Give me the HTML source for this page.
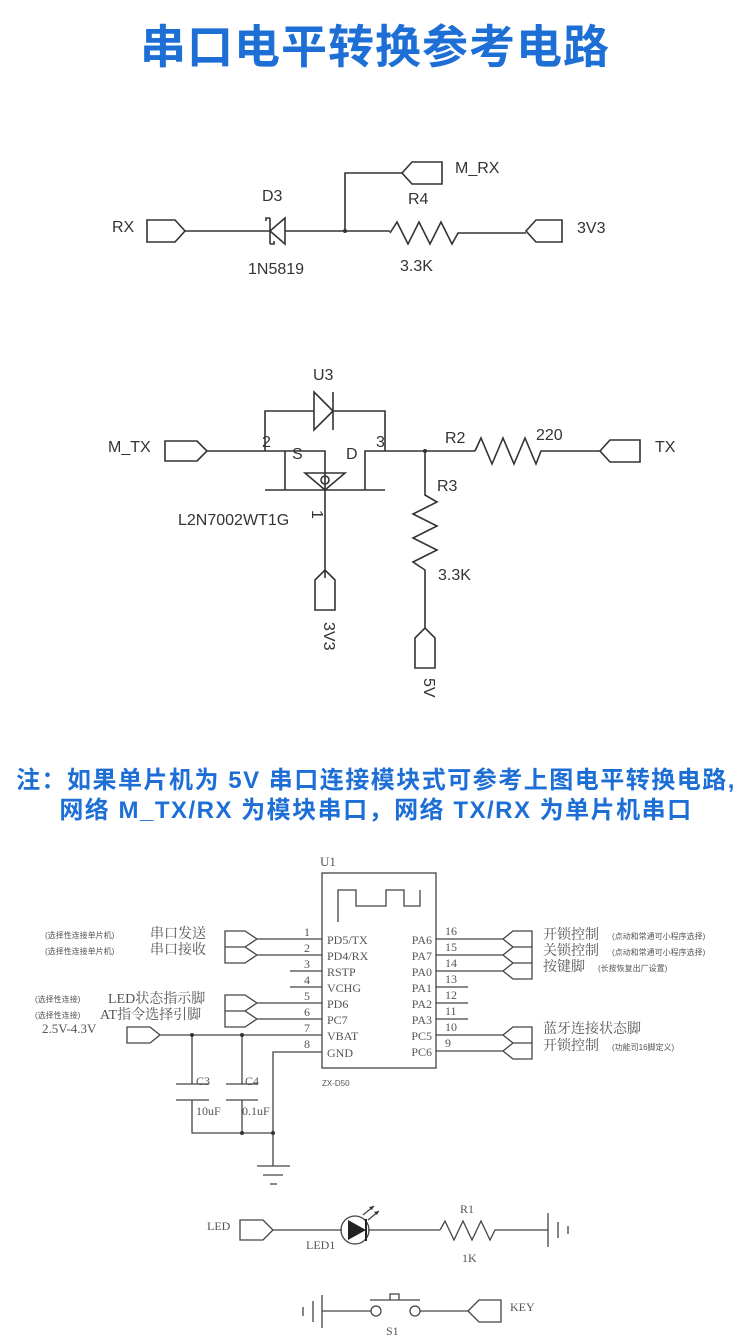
<!DOCTYPE html>
<html><head><meta charset="utf-8"><style>
html,body{margin:0;padding:0;background:#fff}
svg{display:block}
.t{font-family:"Liberation Sans","DejaVu Sans",sans-serif;fill:#333;font-size:16px}
.s{font-family:"Liberation Serif","Noto Serif CJK SC",serif;fill:#555;font-size:13px}
.sm{font-family:"Liberation Sans","Noto Sans CJK SC",sans-serif;fill:#555;font-size:8px}
.b{font-family:"Liberation Sans","Noto Sans CJK SC",sans-serif;fill:#1d6fd6;font-weight:bold}
</style></head><body>
<svg width="750" height="1344" viewBox="0 0 750 1344" xmlns="http://www.w3.org/2000/svg">
<text class="b" x="375" y="63" text-anchor="middle" font-size="46" letter-spacing="1">串口电平转换参考电路</text>

<g stroke="#333" stroke-width="1.6" fill="none">
<path d="M147,220 H175 L185,231 L175,242 H147 Z"/>
<path d="M185,231 H270"/>
<path d="M285,218 L270,231 L285,244 Z M270,218 V244 M270,218 h-4 v3 M270,244 h4 v-3"/>
<path d="M285,231 H390 M345,231 V173 H402"/>
<path d="M402,173 L412,162 H442 V184 H412 Z"/>
<path d="M390,233 L397,222 L408,244 L419,222 L430,244 L441,222 L452,244 L458,233 H526"/>
<path d="M526,231 L536,220 H562 V242 H536 Z"/>
<path d="M265,451 V411 H314 M333,411 H385 V451"/>
<path d="M314,392 L333,411 L314,430 Z M333,392 V430"/>
<path d="M165,441 H197 L207,451 L197,461 H165 Z"/>
<path d="M207,451 H325 V578 M285,451 V490 M265,490 H385 M365,490 V451 H475"/>
<path d="M305,473 H345 L325,490 Z"/>
<circle cx="325" cy="480" r="4"/>
<path d="M325,570 L335,580 V610 H315 V580 Z"/>
<path d="M475,451 L481,438 L492,464 L503,438 L514,464 L525,438 L536,464 L541,451 H600"/>
<path d="M600,451 L610,440 H640 V462 H610 Z"/>
<path d="M425,451 V495 L437,502 L413,514 L437,526 L413,538 L437,550 L413,562 L425,570 V628"/>
<path d="M425,628 L435,638 V668 H415 V638 Z"/>
</g>
<circle cx="345" cy="231" r="2" fill="#333"/>
<circle cx="425" cy="451" r="2" fill="#333"/>
<text class="t" x="112" y="232">RX</text>
<text class="t" x="262" y="201">D3</text>
<text class="t" x="248" y="274">1N5819</text>
<text class="t" x="455" y="173">M_RX</text>
<text class="t" x="408" y="204">R4</text>
<text class="t" x="400" y="271">3.3K</text>
<text class="t" x="577" y="233">3V3</text>
<text class="t" x="313" y="380">U3</text>
<text class="t" x="108" y="452">M_TX</text>
<text class="t" x="262" y="447" font-size="14">2</text>
<text class="t" x="292" y="459" font-size="14">S</text>
<text class="t" x="346" y="459" font-size="14">D</text>
<text class="t" x="376" y="447" font-size="14">3</text>
<text class="t" x="178" y="525" font-size="15">L2N7002WT1G</text>
<text class="t" x="312" y="510" font-size="12" transform="rotate(90 312 510)">1</text>
<text class="t" x="324" y="622" transform="rotate(90 324 622)">3V3</text>
<text class="t" x="445" y="443">R2</text>
<text class="t" x="536" y="440">220</text>
<text class="t" x="655" y="452">TX</text>
<text class="t" x="437" y="491">R3</text>
<text class="t" x="438" y="580">3.3K</text>
<text class="t" x="424" y="678" transform="rotate(90 424 678)">5V</text>

<text class="b" x="376" y="788" text-anchor="middle" font-size="24" letter-spacing="1.5">注：如果单片机为 5V 串口连接模块式可参考上图电平转换电路,</text>
<text class="b" x="376" y="818" text-anchor="middle" font-size="24" letter-spacing="1.5">网络 M_TX/RX 为模块串口，网络 TX/RX 为单片机串口</text>

<g stroke="#444" stroke-width="1.3" fill="none">
<rect x="322" y="873" width="114" height="195"/>
<path d="M338,922 V890 H356 V906 H386 V890 H404 V906 H420 V890"/>
<path d="M290,939 H322 M290,955 H322 M290,971 H322 M290,987 H322 M290,1003 H322 M290,1019 H322 M160,1035 H322 M322,1052 H273 V1166"/>
<path d="M225,931 H245 L257,939 L245,947 H225 Z M257,939 H290 M225,947 H245 L257,955 L245,963 H225 Z M257,955 H290"/>
<path d="M225,995 H245 L257,1003 L245,1011 H225 Z M257,1003 H290 M225,1011 H245 L257,1019 L245,1027 H225 Z M257,1019 H290"/>
<path d="M127,1027 H150 L160,1035 L150,1043 H127 Z"/>
<path d="M192,1035 V1084 M176,1084 H209 M176,1100 H209 M192,1100 V1133 H273 M242,1035 V1084 M226,1084 H258 M226,1100 H258 M242,1100 V1133"/>
<path d="M257,1166 H290 M263,1175 H283 M270,1184 H277"/>
<path d="M436,939 H503 M436,955 H503 M436,971 H503 M436,987 H468 M436,1003 H468 M436,1019 H468 M436,1035 H503 M436,1051 H503"/>
<path d="M503,939 L513,931 H532 V947 H513 Z M503,955 L513,947 H532 V963 H513 Z M503,971 L513,963 H532 V979 H513 Z"/>
<path d="M503,1035 L513,1027 H532 V1043 H513 Z M503,1051 L513,1043 H532 V1059 H513 Z"/>
<path d="M240,1220 H263 L273,1230 L263,1240 H240 Z M273,1230 H342 M368,1230 H440"/>
<circle cx="355" cy="1230" r="14"/>
<path d="M440,1230 L445,1221 L454,1240 L463,1221 L472,1240 L481,1221 L490,1240 L495,1230 H548 M548,1213 V1247 M558,1222 V1238 M568,1226 V1234"/>
<path d="M363,1215 L374,1206 M368,1220 L379,1211"/>
<path d="M322,1295 V1328 M313,1301 V1322 M303,1307 V1316 M322,1311 H371 M420,1311 H468"/>
<circle cx="376" cy="1311" r="5"/><circle cx="415" cy="1311" r="5"/>
<path d="M370,1300 H420 M390,1300 V1294 H399 V1300"/>
<path d="M468,1311 L479,1300 H501 V1322 H479 Z"/>
</g>
<path d="M348,1220 L366,1230 L348,1240 Z" fill="#222"/>
<path d="M366,1219 V1241" stroke="#222" stroke-width="2"/>
<path d="M374,1206 l-5,1 l3,3 Z M379,1211 l-5,1 l3,3 Z" fill="#333"/>
<g fill="#333"><circle cx="192" cy="1035" r="2"/><circle cx="242" cy="1035" r="2"/><circle cx="242" cy="1133" r="2"/><circle cx="273" cy="1133" r="2"/></g>

<g class="s">
<text x="320" y="866">U1</text>
<text x="327" y="944" font-size="12">PD5/TX</text><text x="327" y="960" font-size="12">PD4/RX</text>
<text x="327" y="976" font-size="12">RSTP</text><text x="327" y="992" font-size="12">VCHG</text>
<text x="327" y="1008" font-size="12">PD6</text><text x="327" y="1024" font-size="12">PC7</text>
<text x="327" y="1040" font-size="12">VBAT</text><text x="327" y="1057" font-size="12">GND</text>
<text x="304" y="936" font-size="12">1</text><text x="304" y="952" font-size="12">2</text><text x="304" y="968" font-size="12">3</text><text x="304" y="984" font-size="12">4</text><text x="304" y="1000" font-size="12">5</text><text x="304" y="1016" font-size="12">6</text><text x="304" y="1032" font-size="12">7</text><text x="304" y="1048" font-size="12">8</text>
<g text-anchor="end" font-size="12"><text x="432" y="944">PA6</text><text x="432" y="960">PA7</text><text x="432" y="976">PA0</text><text x="432" y="992">PA1</text><text x="432" y="1008">PA2</text><text x="432" y="1024">PA3</text><text x="432" y="1040">PC5</text><text x="432" y="1056">PC6</text></g>
<g font-size="12"><text x="445" y="935">16</text><text x="445" y="951">15</text><text x="445" y="967">14</text><text x="445" y="983">13</text><text x="445" y="999">12</text><text x="445" y="1015">11</text><text x="445" y="1031">10</text><text x="445" y="1047">9</text></g>
<text x="150" y="938" font-size="14">串口发送</text><text x="150" y="954" font-size="14">串口接收</text>
<text x="108" y="1003" font-size="14">LED状态指示脚</text><text x="100" y="1019" font-size="14">AT指令选择引脚</text>
<text x="42" y="1033" font-size="13">2.5V-4.3V</text>
<text x="543" y="939" font-size="14">开锁控制</text><text x="543" y="955" font-size="14">关锁控制</text><text x="543" y="971" font-size="14">按键脚</text>
<text x="543" y="1033" font-size="14">蓝牙连接状态脚</text><text x="543" y="1050" font-size="14">开锁控制</text>
<text x="196" y="1085" font-size="12">C3</text><text x="245" y="1085" font-size="12">C4</text>
<text x="196" y="1115" font-size="12">10uF</text><text x="242" y="1115" font-size="12">0.1uF</text>
<text x="207" y="1230" font-size="12">LED</text><text x="306" y="1249" font-size="12">LED1</text>
<text x="460" y="1213" font-size="12">R1</text><text x="462" y="1262" font-size="12">1K</text>
<text x="510" y="1311" font-size="12">KEY</text><text x="386" y="1335" font-size="12">S1</text>
</g>
<text class="sm" x="322" y="1086">ZX-D50</text>
<g class="sm">
<text x="45" y="938">(选择性连接单片机)</text><text x="45" y="954">(选择性连接单片机)</text>
<text x="35" y="1002">(选择性连接)</text><text x="35" y="1018">(选择性连接)</text>
<text x="612" y="939">(点动和常通可小程序选择)</text><text x="612" y="955">(点动和常通可小程序选择)</text>
<text x="598" y="971">(长按恢复出厂设置)</text><text x="612" y="1050">(功能司16脚定义)</text>
</g>
</svg>
</body></html>
